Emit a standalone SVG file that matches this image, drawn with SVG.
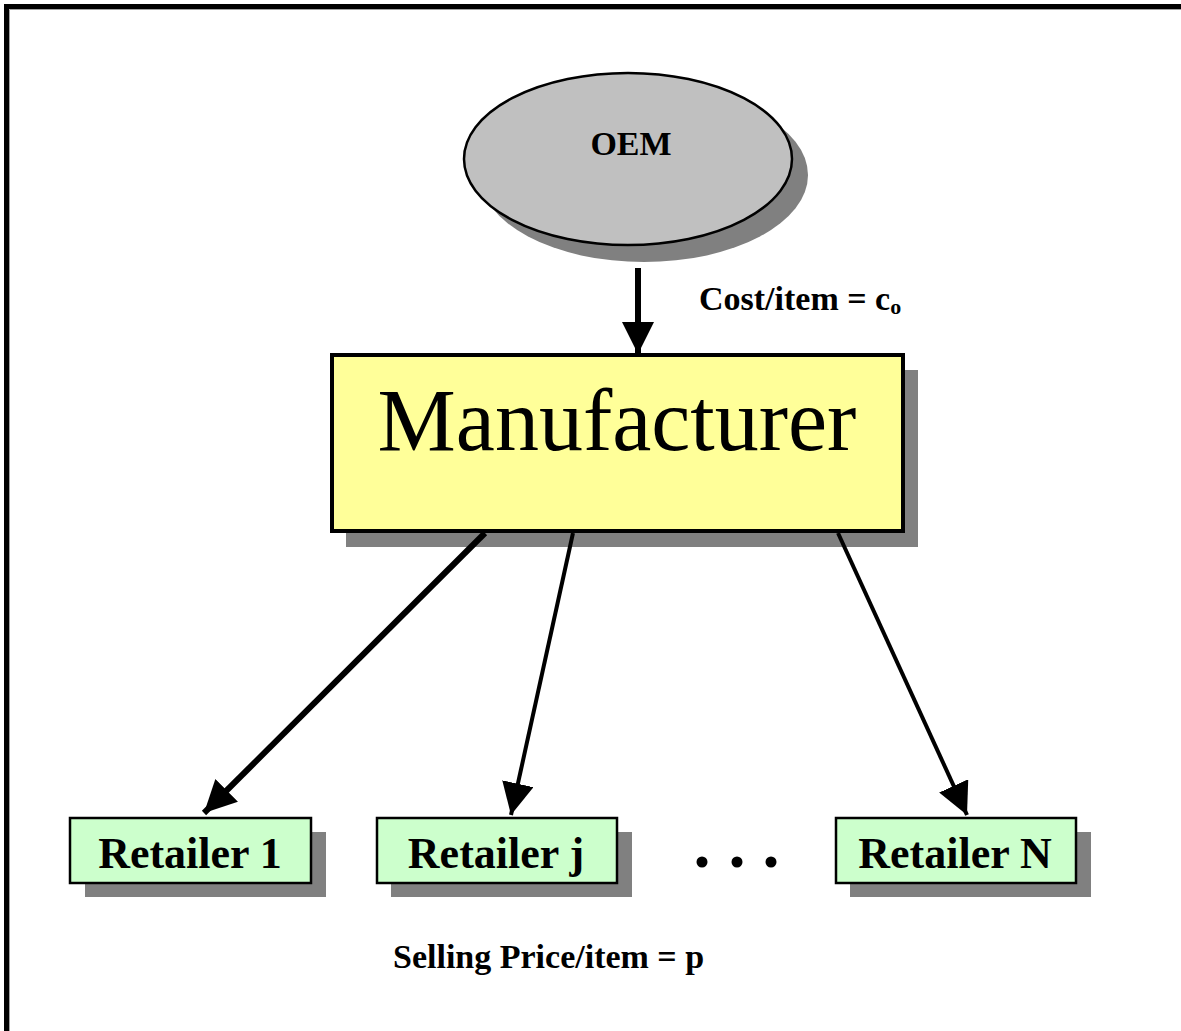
<svg xmlns="http://www.w3.org/2000/svg" width="1181" height="1031" viewBox="0 0 1181 1031">
<style>
.shadow{fill:#808080;}
.ret{fill:#ccffcc;stroke:#000;stroke-width:2.5;}
.rtxt{font-family:"Liberation Serif",serif;font-weight:bold;font-size:44px;fill:#000;}
.lbl{font-family:"Liberation Serif",serif;font-weight:bold;font-size:34px;fill:#000;}
.conn{stroke:#000;fill:none;}
</style>
<defs>
<marker id="ah" markerUnits="userSpaceOnUse" markerWidth="32" markerHeight="32" viewBox="0 0 30 30" refX="30" refY="15" orient="auto">
<path d="M0,0 L30,15 L0,30 Z" fill="#000"/>
</marker>
</defs>
<rect x="0" y="0" width="1181" height="1031" fill="#fff"/>
<g id="frame">
<path d="M6.5,1040 V6.5 H1190" fill="none" stroke="#000" stroke-width="5"/>
<path d="M9.5,1040 V9.5 H1190" fill="none" stroke="#a0a0a0" stroke-width="1"/>
</g>
<g id="oem">
<ellipse cx="644" cy="175" rx="164" ry="87" class="shadow"/>
<ellipse cx="628" cy="159" rx="164" ry="86" fill="#c0c0c0" stroke="#000" stroke-width="2.5"/>
<text x="631" y="155" text-anchor="middle" font-family="'Liberation Serif',serif" font-weight="bold" font-size="34">OEM</text>
</g>
<g id="manufacturer">
<rect x="346" y="370" width="572" height="177" class="shadow"/>
<rect x="332" y="355" width="571" height="176" fill="#ffff99" stroke="#000" stroke-width="4"/>
<text x="617" y="450" text-anchor="middle" font-family="'Liberation Serif',serif" font-size="88">Manufacturer</text>
</g>
<g id="retailer1">
<rect x="85" y="832" width="241" height="65" class="shadow"/>
<rect x="70" y="818" width="241" height="65" class="ret"/>
<text x="190" y="868" text-anchor="middle" class="rtxt">Retailer 1</text>
</g>
<g id="retailerj">
<rect x="391" y="832" width="241" height="65" class="shadow"/>
<rect x="377" y="818" width="240" height="65" class="ret"/>
<text x="496" y="868" text-anchor="middle" class="rtxt">Retailer j</text>
</g>
<g id="retailerN">
<rect x="850" y="832" width="241" height="65" class="shadow"/>
<rect x="836" y="818" width="240" height="65" class="ret"/>
<text x="955" y="868" text-anchor="middle" class="rtxt">Retailer N</text>
</g>
<g id="ellipsis">
<circle cx="702" cy="862" r="5.5" fill="#000"/>
<circle cx="737" cy="862" r="5.5" fill="#000"/>
<circle cx="771" cy="862" r="5.5" fill="#000"/>
</g>
<g id="connectors">
<line x1="638" y1="268" x2="638" y2="354" class="conn" stroke-width="6" marker-end="url(#ah)"/>
<line x1="485" y1="533" x2="204" y2="813" class="conn" stroke-width="6" marker-end="url(#ah)"/>
<line x1="573" y1="533" x2="511" y2="815" class="conn" stroke-width="4" marker-end="url(#ah)"/>
<line x1="838" y1="533" x2="967" y2="815" class="conn" stroke-width="4" marker-end="url(#ah)"/>
</g>
<g id="labels">
<text x="699" y="310" class="lbl">Cost/item = c<tspan font-size="22" dy="4">o</tspan></text>
<text x="393" y="968" class="lbl">Selling Price/item = p</text>
</g>
</svg>
